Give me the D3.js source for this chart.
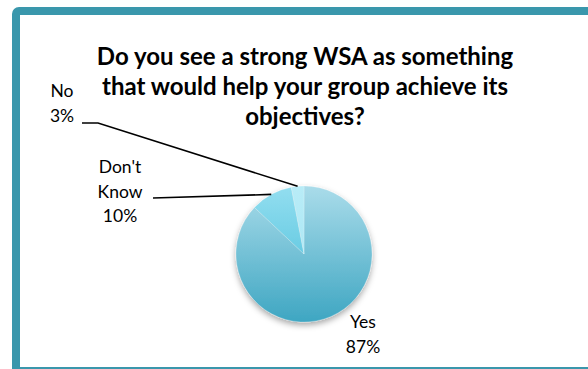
<!DOCTYPE html>
<html>
<head>
<meta charset="utf-8">
<script src="https://cdn.jsdelivr.net/npm/d3@7"></script>
<style>
  html, body { margin: 0; padding: 0; background: #fff; }
  svg { display: block; }
</style>
</head>
<body>
<svg id="chart" width="588" height="369"></svg>
<script>
// Survey answers
const categories = ["Yes", "Don't Know", "No"];
const values = [87, 10, 3];
const valueLabels = ["87%", "10%", "3%"];
const titleLines = [
  "Do you see a strong WSA as something",
  "that would help your group achieve its",
  "objectives?"
];

const W = 588, H = 369;
const svg = d3.select("#chart");
const font = "Lato, 'Open Sans', sans-serif";

// teal frame
svg.append("rect")
  .attr("x", 16).attr("y", 11)
  .attr("width", 620).attr("height", 360)
  .attr("rx", 3)
  .attr("fill", "#fff")
  .attr("stroke", "#3a97ac")
  .attr("stroke-width", 8);

const defs = svg.append("defs");

// soft shadow under the pie
const shadow = defs.append("filter").attr("id", "pieShadow")
  .attr("x", "-20%").attr("y", "-20%").attr("width", "140%").attr("height", "150%");
shadow.append("feDropShadow")
  .attr("dx", 0).attr("dy", 3).attr("stdDeviation", 3)
  .attr("flood-color", "#000").attr("flood-opacity", 0.35);

const cx = 304, cy = 254, r = 68;

// vertical gradients per slice (in the pie group's local space)
const gradStops = [
  ["#aadcea", "#3ea6c2"],
  ["#93def0", "#3fbad6"],
  ["#b8ecf7", "#a4e4f3"]
];
gradStops.forEach((s, i) => {
  const g = defs.append("linearGradient")
    .attr("id", "grad" + i)
    .attr("gradientUnits", "userSpaceOnUse")
    .attr("x1", 0).attr("y1", -r).attr("x2", 0).attr("y2", r);
  g.append("stop").attr("offset", "0%").attr("stop-color", s[0]);
  g.append("stop").attr("offset", "100%").attr("stop-color", s[1]);
});

const pie = d3.pie().sort(null).value(d => d)(values);
const arc = d3.arc().innerRadius(0).outerRadius(r);

const pieG = svg.append("g")
  .attr("transform", `translate(${cx},${cy})`)
  .attr("filter", "url(#pieShadow)");

pieG.selectAll("path")
  .data(pie)
  .join("path")
  .attr("d", arc)
  .attr("fill", (d, i) => `url(#grad${i})`)
  .attr("stroke", "rgba(255,255,255,0.35)")
  .attr("stroke-width", 0.6);

// title
svg.append("text")
  .attr("text-anchor", "middle")
  .attr("font-family", font)
  .attr("font-weight", "bold")
  .attr("font-size", 24)
  .attr("fill", "#000")
  .selectAll("tspan")
  .data(titleLines)
  .join("tspan")
  .attr("x", 305)
  .attr("y", (d, i) => 65 + i * 30)
  .text(d => d);

// point on the pie edge at the middle of a slice
function edgePoint(d) {
  const a = (d.startAngle + d.endAngle) / 2;
  return [cx + r * Math.sin(a), cy - r * Math.cos(a)];
}

// data label positions and leader paths
const labelPos = [
  { x: 363, y: 328, lines: null },
  { x: 120, y: 173, lines: [[153, 198]] },
  { x: 62, y: 97, lines: [[82, 123], [98, 123]] }
];

const labelG = svg.append("g")
  .attr("font-family", font)
  .attr("font-size", 17.5)
  .attr("fill", "#000");

pie.forEach((d, i) => {
  const p = labelPos[i];
  const name = categories[i];
  const words = name === "Don't Know" ? ["Don't", "Know"] : [name];
  const rows = words.concat([valueLabels[i]]);
  labelG.append("text")
    .attr("text-anchor", "middle")
    .selectAll("tspan")
    .data(rows)
    .join("tspan")
    .attr("x", p.x)
    .attr("y", (t, k) => p.y + k * 24.5)
    .text(t => t);

  if (p.lines) {
    const pts = p.lines.concat([edgePoint(d)]);
    svg.append("path")
      .attr("d", d3.line()(pts))
      .attr("fill", "none")
      .attr("stroke", "#000")
      .attr("stroke-width", 1.6);
  }
});
</script>
</body>
</html>
